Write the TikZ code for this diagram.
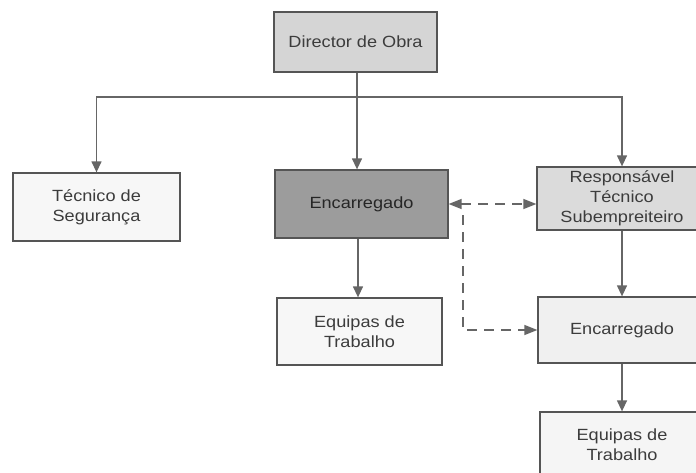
\documentclass[tikz,border=0pt]{standalone}
\usepackage{fontspec}
\setmainfont{Liberation Sans}[FakeStretch=1.12]
\usetikzlibrary{arrows.meta}
\definecolor{edgec}{HTML}{555555}
\definecolor{linec}{HTML}{666666}
\definecolor{txtc}{HTML}{3C3C3C}
\begin{document}
\begin{tikzpicture}[x=1pt,y=-1pt,
  box/.style={draw=edgec, line width=1.3pt, align=center, inner sep=0pt,
    font=\fontsize{16.2}{20}\selectfont, text=txtc},
  conn/.style={draw=linec, line width=1.3pt, -{Triangle[length=11pt,width=10pt]}},
  dconn/.style={draw=linec, line width=1.4pt, dash pattern=on 10pt off 7pt},
  dtip/.style={-{Triangle[length=13pt,width=10pt]}},
  dtips/.style={{Triangle[length=13pt,width=10pt]}-{Triangle[length=13pt,width=10pt]}}]
\useasboundingbox (0,0) rectangle (696,472);
\clip (0,0) rectangle (696,472);
\node[box, fill=gray!33, minimum width=163pt, minimum height=60pt] (dir) at (355.5,42) {Director de Obra};
\node[box, fill=gray!6, minimum width=167pt, minimum height=68pt] (tec) at (96.5,207) {Técnico de\\Segurança};
\node[box, fill=gray!78, text=black!85, minimum width=173pt, minimum height=68pt] (enc) at (361.5,204) {Encarregado};
\node[box, fill=gray!28, minimum width=170pt, minimum height=63pt] (resp) at (622,198.5) {Responsável\\Técnico\\Subempreiteiro};
\node[box, fill=gray!6, minimum width=165pt, minimum height=67pt] (eq1) at (359.5,331.5) {Equipas de\\Trabalho};
\node[box, fill=gray!12, minimum width=168pt, minimum height=66pt] (enc2) at (622,330) {Encarregado};
\node[box, fill=gray!8, minimum width=164pt, minimum height=66pt] (eq2) at (622,445) {Equipas de\\Trabalho};
\draw[draw=linec, line width=1.3pt] (dir.south -| 357,0) -- (357,97) coordinate (bus);
\draw[conn] (bus) -| (tec.north);
\draw[conn] (bus) -| (resp.north);
\draw[conn] (bus) -- (enc.north -| bus);
\draw[conn] (enc.south -| 358,0) -- (eq1.north -| 358,0);
\draw[conn] (resp) -- (enc2);
\draw[conn] (enc2) -- (eq2);
\draw[dconn, dtips] (enc.east) -- (enc.east -| resp.west);
\coordinate (jn) at (463,215);
\draw[dconn, dtip] (jn) |- (enc2.west);
\end{tikzpicture}
\end{document}
